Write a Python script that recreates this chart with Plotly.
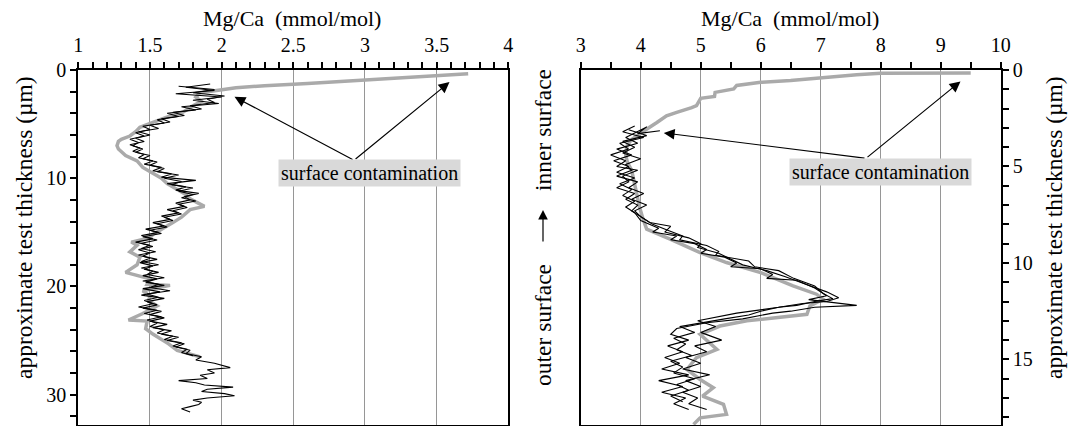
import plotly.graph_objects as go

# ---------------- left panel: Mg/Ca depth profiles (x: mmol/mol, y: µm) ----------------
left_gray_x = [3.72, 3.40, 3.05, 2.60, 2.30, 2.10, 1.99, 1.85, 1.82, 1.86, 1.80, 1.73, 1.65, 1.57,
               1.50, 1.43, 1.40, 1.36, 1.30, 1.28, 1.27, 1.28, 1.33, 1.41, 1.45, 1.52, 1.58, 1.62,
               1.68, 1.75, 1.78, 1.88, 1.78, 1.72, 1.66, 1.60, 1.52, 1.50, 1.37, 1.41, 1.36, 1.43,
               1.41, 1.33, 1.41, 1.50, 1.48, 1.64, 1.45, 1.50, 1.49, 1.55, 1.45, 1.35, 1.48, 1.47,
               1.52, 1.56, 1.63, 1.69, 1.78, 1.85]
left_gray_y = [0.35, 0.60, 0.95, 1.25, 1.45, 1.65, 1.85, 2.10, 2.50, 2.90, 3.30, 3.90, 4.20, 4.60,
               5.00, 5.30, 5.70, 6.10, 6.40, 6.60, 7.00, 7.30, 7.90, 8.40, 9.00, 9.50, 10.0, 10.5,
               11.0, 11.5, 11.9, 12.6, 12.9, 13.6, 14.1, 14.6, 15.2, 15.5, 15.9, 16.2, 16.8, 17.3,
               18.0, 18.7, 19.0, 19.3, 19.8, 19.9, 20.4, 20.9, 21.3, 21.8, 22.5, 23.1, 23.2, 23.9,
               24.4, 24.7, 25.3, 25.9, 26.2, 26.5]

left_a_x = [1.92, 1.75, 1.95, 1.68, 2.00, 1.80, 1.98, 1.72, 1.82, 1.62, 1.70, 1.55, 1.60, 1.45,
            1.50, 1.40, 1.46, 1.36, 1.42, 1.38, 1.45, 1.40, 1.50, 1.45, 1.55, 1.50, 1.60, 1.55,
            1.70, 1.60, 1.72, 1.65, 1.80, 1.70, 1.80, 1.72, 1.82, 1.70, 1.76, 1.66, 1.72, 1.60,
            1.66, 1.55, 1.62, 1.50, 1.58, 1.45, 1.55, 1.44, 1.52, 1.42, 1.50, 1.45, 1.55, 1.43,
            1.52, 1.46, 1.56, 1.45, 1.55, 1.47, 1.60, 1.45, 1.57, 1.44, 1.60, 1.48, 1.55, 1.45,
            1.58, 1.50, 1.60, 1.50, 1.62, 1.52, 1.65, 1.58, 1.70, 1.62, 1.74, 1.68, 1.78, 1.75,
            1.86, 1.82, 1.95, 2.06, 1.90, 1.95, 1.85, 1.90, 1.70, 1.82, 1.88, 2.08, 1.90, 1.86,
            2.02, 2.09, 1.90, 1.80, 1.86, 1.84, 1.78, 1.72, 1.78]
left_a_y = [1.3, 1.6, 1.9, 2.2, 2.5, 2.8, 3.1, 3.4, 3.7, 4.0, 4.3, 4.6, 4.9, 5.2,
            5.5, 5.8, 6.1, 6.4, 6.7, 7.0, 7.3, 7.6, 7.9, 8.2, 8.5, 8.8, 9.1, 9.4,
            9.7, 10.0, 10.3, 10.6, 10.9, 11.2, 11.5, 11.8, 12.1, 12.4, 12.7, 13.0, 13.3, 13.6,
            13.9, 14.2, 14.5, 14.8, 15.1, 15.4, 15.7, 16.0, 16.3, 16.6, 16.9, 17.2, 17.5, 17.8,
            18.1, 18.4, 18.7, 19.0, 19.3, 19.6, 19.9, 20.2, 20.5, 20.8, 21.1, 21.4, 21.7, 22.0,
            22.3, 22.6, 22.9, 23.2, 23.5, 23.8, 24.1, 24.4, 24.7, 25.0, 25.3, 25.6, 25.9, 26.2,
            26.5, 26.8, 27.1, 27.5, 27.7, 28.0, 28.2, 28.5, 28.7, 28.9, 29.1, 29.3, 29.5, 29.7,
            29.9, 30.1, 30.3, 30.5, 30.7, 30.9, 31.1, 31.3, 31.6]

left_b_x = [1.70, 1.95, 1.80, 2.02, 1.90, 1.95, 1.78, 1.86, 1.66, 1.74, 1.58, 1.64, 1.50, 1.56,
            1.42, 1.50, 1.40, 1.46, 1.36, 1.43, 1.38, 1.46, 1.42, 1.52, 1.46, 1.58, 1.52, 1.65,
            1.58, 1.82, 1.62, 1.75, 1.68, 1.84, 1.74, 1.78, 1.68, 1.74, 1.62, 1.70, 1.58, 1.64,
            1.52, 1.60, 1.47, 1.56, 1.44, 1.52, 1.40, 1.50, 1.44, 1.54, 1.42, 1.50, 1.44, 1.56,
            1.44, 1.52, 1.48, 1.60, 1.45, 1.56, 1.50, 1.64, 1.48, 1.56, 1.46, 1.52, 1.42, 1.55,
            1.46, 1.58, 1.48, 1.55, 1.50, 1.60, 1.55, 1.66, 1.60, 1.72, 1.66, 1.76, 1.72, 1.80]
left_b_y = [1.5, 1.8, 2.1, 2.4, 2.7, 3.0, 3.3, 3.6, 3.9, 4.2, 4.5, 4.8, 5.1, 5.4,
            5.7, 6.0, 6.3, 6.6, 6.9, 7.2, 7.5, 7.8, 8.1, 8.4, 8.7, 9.0, 9.3, 9.6,
            9.9, 10.2, 10.5, 10.8, 11.1, 11.4, 11.7, 12.0, 12.3, 12.6, 12.9, 13.2, 13.5, 13.8,
            14.1, 14.4, 14.7, 15.0, 15.3, 15.6, 15.9, 16.2, 16.5, 16.8, 17.1, 17.4, 17.7, 18.0,
            18.3, 18.6, 18.9, 19.2, 19.5, 19.8, 20.1, 20.4, 20.7, 21.0, 21.3, 21.6, 21.9, 22.2,
            22.5, 22.8, 23.1, 23.4, 23.7, 24.0, 24.3, 24.6, 24.9, 25.2, 25.5, 25.8, 26.1, 26.4]

# ---------------- right panel ----------------
right_gray_x = [9.50, 8.00, 7.60, 7.00, 6.50, 6.00, 5.60, 5.55, 5.30, 5.24, 5.23, 5.00, 4.93, 4.85,
                4.60, 4.43, 4.27, 4.13, 4.02, 3.85, 3.77, 3.75, 3.78, 3.85, 3.88, 3.93, 3.98, 4.04,
                4.10, 4.49, 4.99, 5.43, 6.00, 6.54, 6.93, 7.04, 6.82, 6.77, 6.27, 5.77, 5.32, 4.99,
                5.27, 4.93, 4.77, 4.99, 5.21, 5.03, 5.38, 5.43, 4.99, 4.88]
right_gray_y = [0.15, 0.17, 0.25, 0.43, 0.55, 0.64, 0.80, 0.98, 1.10, 1.16, 1.37, 1.47, 1.85, 1.95,
                2.20, 2.37, 2.72, 2.98, 3.23, 3.60, 3.93, 4.40, 4.80, 5.20, 5.66, 6.52, 7.10, 7.73,
                8.25, 8.77, 9.46, 9.98, 10.50, 11.19, 11.62, 11.88, 12.23, 12.66, 12.83, 13.00, 13.27, 13.70,
                14.48, 14.91, 15.52, 16.04, 16.47, 16.90, 17.33, 17.85, 18.03, 18.37]

right_a_x = [4.32, 3.95, 4.10, 3.75, 3.95, 3.60, 3.85, 3.55, 3.80, 3.60, 3.90, 3.65, 3.85, 3.70,
             3.90, 3.75, 3.90, 4.00, 4.30, 4.20, 4.60, 4.50, 4.90, 5.10, 5.00, 5.40, 5.60, 5.50,
             6.00, 6.20, 6.10, 6.60, 6.90, 7.10, 6.80, 7.60, 6.90, 6.50, 6.20, 5.70, 5.10, 4.60,
             4.50, 4.80, 4.45, 4.70, 4.40, 4.65, 4.35, 4.80, 4.30, 4.70, 4.35, 4.75, 4.55, 4.80]
right_a_y = [3.15, 3.30, 2.95, 3.50, 3.80, 4.10, 4.40, 4.70, 5.00, 5.30, 5.60, 5.90, 6.20, 6.50,
             6.80, 7.10, 7.40, 7.80, 8.20, 8.40, 8.60, 8.80, 9.00, 9.30, 9.50, 9.70, 10.00, 10.20,
             10.30, 10.60, 10.80, 10.90, 11.30, 11.70, 11.90, 12.20, 12.30, 12.50, 12.60, 12.90, 13.10, 13.40,
             13.70, 14.00, 14.30, 14.60, 14.90, 15.20, 15.50, 15.80, 16.10, 16.40, 16.70, 17.00, 17.30, 17.60]

right_b_x = [3.90, 3.70, 4.05, 3.65, 3.80, 3.50, 3.75, 3.60, 3.95, 3.70, 3.80, 3.60, 3.90, 3.75,
             3.95, 3.85, 4.05, 4.20, 4.45, 4.70, 4.65, 5.10, 5.30, 5.25, 5.80, 5.90, 6.30, 6.55,
             6.90, 7.05, 7.20, 6.90, 6.60, 6.30, 6.00, 5.80, 5.40, 5.00, 4.65, 4.90, 4.55, 4.75,
             4.60, 4.85, 4.50, 4.70, 4.55, 4.90, 4.60, 4.80, 4.50, 4.70]
right_b_y = [2.90, 3.20, 3.50, 3.80, 4.10, 4.40, 4.70, 5.00, 5.20, 5.50, 5.80, 6.10, 6.40, 6.70,
             7.00, 7.30, 7.70, 8.00, 8.30, 8.60, 8.80, 9.10, 9.40, 9.60, 9.90, 10.20, 10.40, 10.80,
             11.20, 11.60, 11.85, 12.00, 12.20, 12.30, 12.50, 12.70, 12.90, 13.10, 13.30, 13.60, 13.90, 14.20,
             14.50, 14.80, 15.10, 15.40, 15.70, 16.00, 16.30, 16.60, 16.90, 17.20]

right_c_x = [3.80, 4.10, 3.70, 3.90, 3.70, 4.00, 3.75, 3.85, 3.60, 3.95, 3.80, 4.05, 3.85, 4.10,
             3.90, 4.00, 4.15, 4.50, 4.40, 4.80, 5.00, 4.95, 5.30, 5.50, 5.70, 6.10, 6.40, 6.75,
             7.10, 7.30, 7.10, 6.70, 6.30, 5.60, 5.30, 4.95, 5.25, 5.00, 5.35, 4.90, 5.10, 4.75,
             5.00, 4.70, 5.15, 4.75, 5.00, 4.70, 4.95, 4.80, 5.10]
right_c_y = [3.10, 3.40, 3.70, 4.00, 4.30, 4.60, 4.90, 5.20, 5.50, 5.80, 6.10, 6.40, 6.70, 7.00,
             7.30, 7.60, 7.90, 8.10, 8.40, 8.70, 9.00, 9.20, 9.50, 9.80, 10.10, 10.40, 10.70, 11.10,
             11.50, 11.80, 12.00, 12.10, 12.30, 12.60, 12.80, 13.00, 13.30, 13.60, 14.00, 14.30, 14.60, 14.90,
             15.20, 15.50, 15.80, 16.10, 16.40, 16.70, 17.00, 17.30, 17.60]

# axis labels / annotation text
x_title = "Mg/Ca  (mmol/mol)"
y_title = "approximate test thickness (µm)"
note = "surface contamination"

W, H = 1068, 426
SERIF = "Liberation Serif, Times New Roman, serif"
GRAY = "rgb(170,170,170)"
GRID = "rgb(150,150,150)"


def px_x(p):
    return p / W


def px_y(p):
    return 1 - p / H


fig = go.Figure()

gray_line = dict(color=GRAY, width=3.5)
black_line = dict(color="black", width=1.1)

fig.add_trace(go.Scatter(x=left_gray_x, y=left_gray_y, mode="lines", line=gray_line,
                         xaxis="x", yaxis="y", showlegend=False))
for xs, ys in [(left_b_x, left_b_y), (left_a_x, left_a_y)]:
    fig.add_trace(go.Scatter(x=xs, y=ys, mode="lines", line=black_line,
                             xaxis="x", yaxis="y", showlegend=False))

fig.add_trace(go.Scatter(x=right_gray_x, y=right_gray_y, mode="lines", line=gray_line,
                         xaxis="x2", yaxis="y2", showlegend=False))
for xs, ys in [(right_a_x, right_a_y), (right_b_x, right_b_y), (right_c_x, right_c_y)]:
    fig.add_trace(go.Scatter(x=xs, y=ys, mode="lines", line=black_line,
                             xaxis="x2", yaxis="y2", showlegend=False))

tick_font = dict(family=SERIF, size=20, color="black")
y_dom = [px_y(425), px_y(70)]

common_x = dict(side="top", ticks="outside", ticklen=6, tickwidth=1.5, tickcolor="black",
                showgrid=True, gridcolor=GRID, gridwidth=1.2, showline=True, linewidth=2,
                linecolor="black", mirror=True, zeroline=False, tickfont=tick_font,
                ticklabelstandoff=2, automargin=False, fixedrange=True)
common_y = dict(ticks="outside", ticklen=6, tickwidth=1.5, tickcolor="black", showgrid=False,
                showline=True, linewidth=2, linecolor="black", mirror=True, zeroline=False,
                tickfont=tick_font, automargin=False, fixedrange=True)

fig.update_layout(
    width=W, height=H,
    margin=dict(l=0, r=0, t=0, b=0, pad=0),
    paper_bgcolor="white", plot_bgcolor="white",
    font=dict(family=SERIF, color="black"),
    xaxis=dict(common_x, domain=[px_x(78.3), px_x(508.3)], range=[1, 4], anchor="y",
               tick0=1, dtick=0.5,
               minor=dict(dtick=0.1, tick0=1, ticks="outside", ticklen=6, tickwidth=1.5,
                          tickcolor="black", showgrid=False)),
    yaxis=dict(common_y, domain=y_dom, range=[32.8, 0], anchor="x", side="left",
               tick0=0, dtick=10,
               minor=dict(dtick=2, tick0=0, ticks="outside", ticklen=6, tickwidth=1.5,
                          tickcolor="black", showgrid=False)),
    xaxis2=dict(common_x, domain=[px_x(580.7), px_x(1000.7)], range=[3, 10], anchor="y2",
                tick0=3, dtick=1,
                minor=dict(dtick=0.5, tick0=3, ticks="outside", ticklen=6, tickwidth=1.5,
                           tickcolor="black", showgrid=False)),
    yaxis2=dict(common_y, domain=y_dom, range=[18.4, 0], anchor="x2", side="right",
                tick0=0, dtick=5,
                minor=dict(dtick=1, tick0=0, ticks="outside", ticklen=6, tickwidth=1.5,
                           tickcolor="black", showgrid=False)),
)

title_font = dict(family=SERIF, size=22, color="black")
ytitle_font = dict(family=SERIF, size=23.5, color="black")
note_font = dict(family=SERIF, size=20, color="black")

anns = []
# top axis titles
anns.append(dict(text=x_title, x=px_x(292), y=px_y(19), xref="paper", yref="paper",
                 showarrow=False, font=title_font, xanchor="center", yanchor="middle"))
anns.append(dict(text=x_title, x=px_x(790), y=px_y(19), xref="paper", yref="paper",
                 showarrow=False, font=title_font, xanchor="center", yanchor="middle"))
# vertical axis titles
anns.append(dict(text=y_title, x=px_x(24), y=px_y(228), xref="paper", yref="paper",
                 showarrow=False, font=ytitle_font, textangle=-90,
                 xanchor="center", yanchor="middle"))
anns.append(dict(text=y_title, x=px_x(1054), y=px_y(228), xref="paper", yref="paper",
                 showarrow=False, font=ytitle_font, textangle=-90,
                 xanchor="center", yanchor="middle"))
# orientation label between the panels
anns.append(dict(text="outer surface", x=px_x(543), y=px_y(325), xref="paper", yref="paper",
                 showarrow=False, font=ytitle_font, textangle=-90,
                 xanchor="center", yanchor="middle"))
anns.append(dict(text="inner surface", x=px_x(543), y=px_y(130), xref="paper", yref="paper",
                 showarrow=False, font=ytitle_font, textangle=-90,
                 xanchor="center", yanchor="middle"))
anns.append(dict(text="", x=px_x(543), y=px_y(210), xref="paper", yref="paper",
                 ax=0, ay=33, axref="pixel", ayref="pixel", showarrow=True,
                 arrowhead=2, arrowsize=1.6, arrowwidth=1.2, arrowcolor="black", standoff=0))

# contamination labels with arrows
arrow_style = dict(showarrow=True, arrowhead=2, arrowsize=1.8, arrowwidth=1.2,
                   arrowcolor="black", text="", standoff=0)
for tip_x, tip_y in [(2.09, 2.48), (3.59, 1.12)]:
    anns.append(dict(arrow_style, x=tip_x, y=tip_y, ax=2.924, ay=8.34,
                     xref="x", yref="y", axref="x", ayref="y"))
for tip_x, tip_y in [(4.385, 3.26), (9.33, 0.59)]:
    anns.append(dict(arrow_style, x=tip_x, y=tip_y, ax=7.755, ay=4.58,
                     xref="x2", yref="y2", axref="x2", ayref="y2"))

box = dict(showarrow=False, font=note_font, bgcolor="rgb(217,217,217)", borderpad=2,
           xanchor="center", yanchor="middle")
anns.append(dict(box, text=note, x=3.03, y=9.56, xref="x", yref="y"))
anns.append(dict(box, text=note, x=8.0, y=5.28, xref="x2", yref="y2"))

fig.update_layout(annotations=anns)

fig.write_html("out.html")
